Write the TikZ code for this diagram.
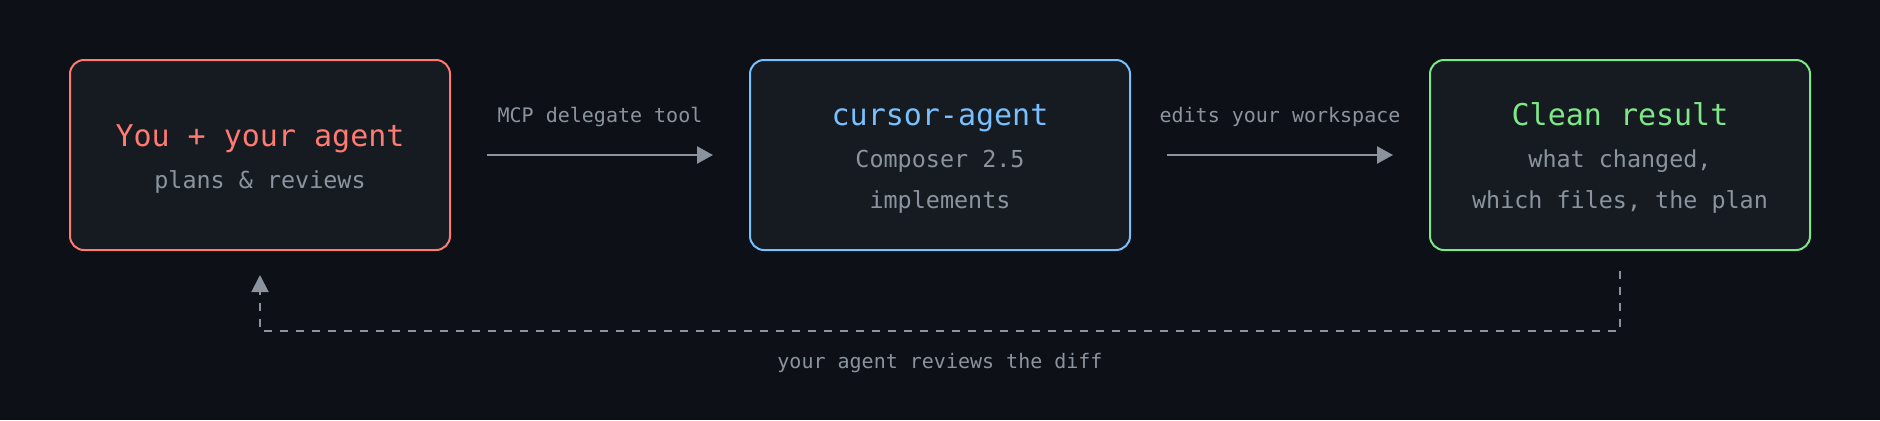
\documentclass[tikz,border=0pt]{standalone}
\usepackage{fontspec}
\setmonofont{DejaVu Sans Mono}
\usetikzlibrary{arrows.meta}

\definecolor{bgcol}{HTML}{0D1117}
\definecolor{boxfill}{HTML}{161B22}
\definecolor{youcol}{HTML}{FF7B72}
\definecolor{agentcol}{HTML}{79C0FF}
\definecolor{rescol}{HTML}{7EE787}
\definecolor{mutecol}{HTML}{8B949E}

\tikzset{
  card/.style={draw=#1, fill=boxfill, line width=1pt, rounded corners=7pt,
    minimum width=190pt, minimum height=95pt, inner sep=0pt},
  cardtitle/.style={text=#1, anchor=base, font=\ttfamily\fontsize{15}{18}\selectfont},
  cardsub/.style={text=mutecol, anchor=base, font=\ttfamily\fontsize{11.7}{14}\selectfont},
  lbl/.style={text=mutecol, anchor=base, font=\ttfamily\fontsize{10}{12}\selectfont},
  flow/.style={draw=mutecol, line width=1.2pt, -{Triangle[length=8pt,width=8.5pt]}},
  loopline/.style={draw=mutecol, line width=1pt, dash pattern=on 4pt off 4pt,
    -{Triangle[length=8.5pt,width=8.5pt]}}
}

\begin{document}
\begin{tikzpicture}[x=0.5pt,y=-0.5pt]
  \fill[bgcol] (0,0) rectangle (1880,420);
  \useasboundingbox (0,0) rectangle (1880,420);

  % the three boxes
  \node[card=youcol] (you) at (260,155) {};
  \node[card=agentcol] (agent) at (940,155) {};
  \node[card=rescol] (res) at (1620,155) {};

  \node[cardtitle=youcol] (youtitle) at (260,146) {You + your agent};
  \node[cardsub] (yousub) at (260,188) {plans \& reviews};

  \node[cardtitle=agentcol] (agenttitle) at (940,125) {cursor-agent};
  \node[cardsub] (agentsub) at (940,167) {Composer 2.5};
  \node[cardsub] (agentsubb) at (940,208) {implements};

  \node[cardtitle=rescol] (restitle) at (1620,125) {Clean result};
  \node[cardsub] (ressub) at (1620,167) {what changed,};
  \node[cardsub] (ressubb) at (1620,208) {which files, the plan};

  % forward arrows
  \draw[flow] ([xshift=18pt]you.east) -- ([xshift=-18pt]agent.west);
  \draw[flow] ([xshift=18pt]agent.east) -- ([xshift=-18pt]res.west);
  \node[lbl] (mcp) at (600,122) {MCP delegate tool};
  \node[lbl] (edits) at (1280,122) {edits your workspace};

  % review loop
  \draw[loopline] ([yshift=-10pt]res.south) -- ++(0,60) -| ([yshift=-12pt]you.south);
  \node[lbl] (review) at (940,368) {your agent reviews the diff};
\end{tikzpicture}
\end{document}
